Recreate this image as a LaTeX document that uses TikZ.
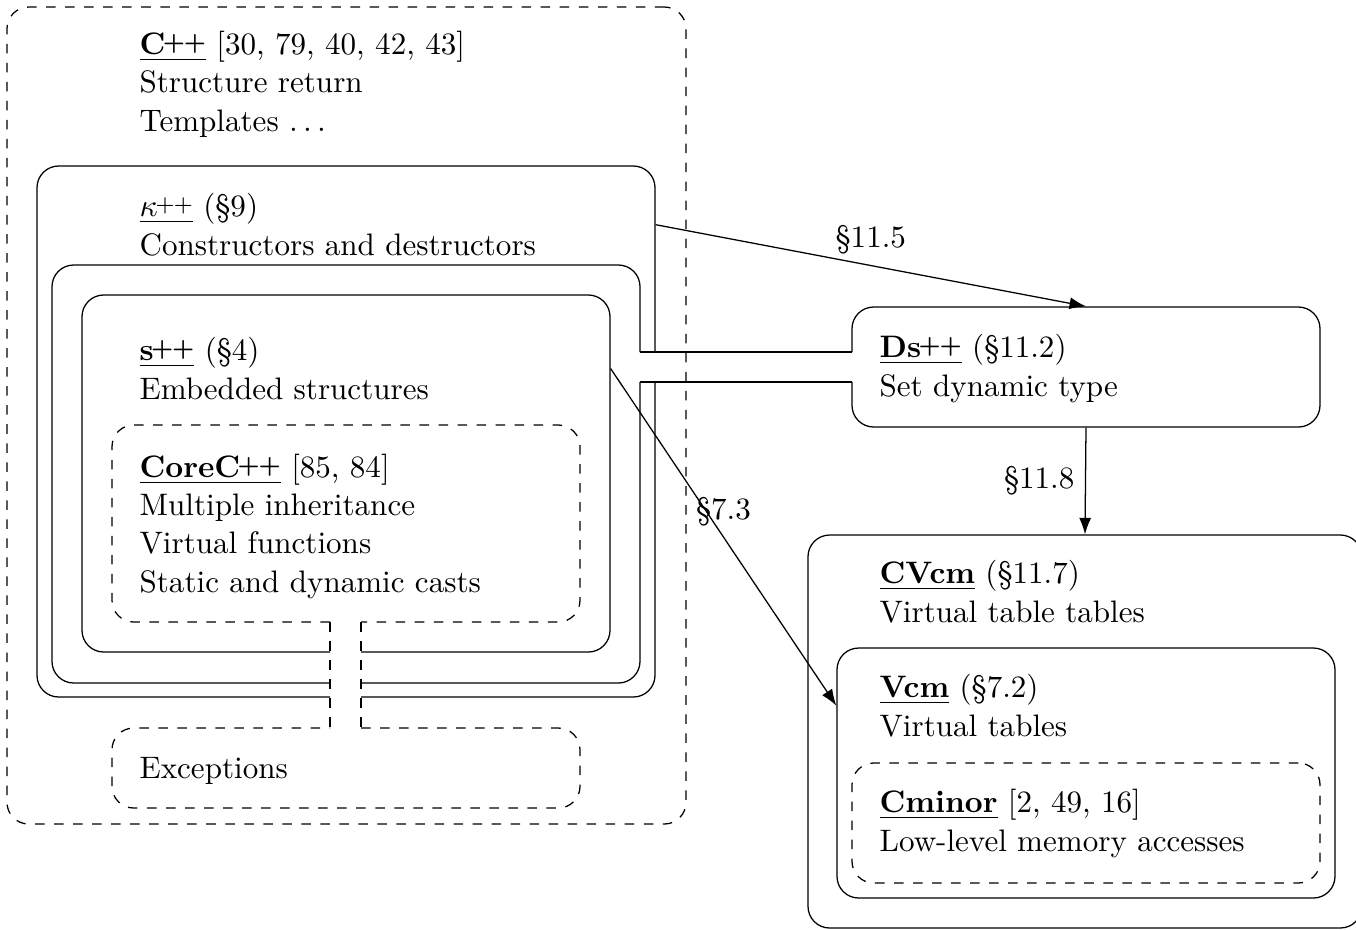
\documentclass[tikz,border=0pt]{standalone}
\usepackage{tikz}
\usetikzlibrary{fit,arrows.meta}
\newcommand{\pplus}{\kern-0.8pt\raisebox{1.6pt}{\scriptsize +\kern-0.4pt+}}
\tikzset{
	area/.style={inner sep=0pt},
	frame/.style={rounded corners=2.4mm},
	txt/.style={anchor=base west, align=left, inner sep=0pt},
	link/.style={-{Latex[length=5.2pt,width=3.8pt]}},
}
\begin{document}
\begin{tikzpicture}[x=1.1086mm, y=-1.1086mm, font=\fontsize{9.8}{12}\selectfont]
		%%%%% START %%%%%
		\useasboundingbox (0,0) rectangle (135.6,92.9);
		
		% C++
		\node[area, draw, dashed, frame, fit={(0.7,0.7) (68.6,82.4)}] (cpp) {};
		\node[txt] (cpptxt) at (13.9,13.1) {\underline{\textbf{C\pplus}} [30, 79, 40, 42, 43]\\Structure return\\Templates $\ldots$};
		
		% kappa++
		\node[area, fit={(3.7,16.6) (65.5,69.7)}] (kpp) {};
		\draw[frame] (65.5,35.2) -- (65.5,16.6) -- (3.7,16.6) -- (3.7,69.7) -- (33.0,69.7);
		\draw[frame] (36.1,69.7) -- (65.5,69.7) -- (65.5,38.2);
		\node[txt] (kpptxt) at (13.9,25.5) {\underline{$\kappa$\pplus} (\S9)\\Constructors and destructors};
		
		% Ds++ (left part, channel, right part)
		\draw[frame] (64.0,35.2) -- (64.0,26.5) -- (5.2,26.5) -- (5.2,68.3) -- (33.0,68.3);
		\draw[frame] (36.1,68.3) -- (64.0,68.3) -- (64.0,38.2);
		\draw (64.0,35.2) -- (85.2,35.2);
		\draw (64.0,38.2) -- (85.2,38.2);
		\node[area, fit={(85.2,30.7) (132.0,42.7)}] (dspp) {};
		\draw[frame] (85.2,35.2) -- (85.2,30.7) -- (132.0,30.7) -- (132.0,42.7) -- (85.2,42.7) -- (85.2,38.2);
		\node[txt] (dspptxt) at (87.9,39.6) {\underline{\textbf{Ds\pplus}} (\S11.2)\\Set dynamic type};
		
		% s++
		\node[area, fit={(8.2,29.5) (61.0,65.2)}] (spp) {};
		\draw[frame] (33.0,65.2) -- (8.2,65.2) -- (8.2,29.5) -- (61.0,29.5) -- (61.0,65.2) -- (36.1,65.2);
		\node[txt] (spptxt) at (13.9,39.9) {\underline{\textbf{s\pplus}} (\S4)\\Embedded structures};
		
		% CoreC++ and Exceptions
		\draw[frame, dashed] (33.0,62.2) -- (11.2,62.2) -- (11.2,42.5) -- (58.0,42.5) -- (58.0,62.2) -- (36.1,62.2);
		\draw[dashed] (33.0,62.2) -- (33.0,72.8);
		\draw[dashed] (36.1,62.2) -- (36.1,72.8);
		\draw[frame, dashed] (36.1,72.8) -- (58.0,72.8) -- (58.0,80.8) -- (11.2,80.8) -- (11.2,72.8) -- (33.0,72.8);
		\node[txt] (coretxt) at (13.9,59.2) {\underline{\textbf{CoreC\pplus}} [85, 84]\\Multiple inheritance\\Virtual functions\\Static and dynamic casts};
		\node[txt] (exctxt) at (13.9,77.8) {Exceptions};
		
		% CVcm, Vcm, Cminor
		\node[area, draw, frame, fit={(80.8,53.5) (136.2,92.8)}] (cvcm) {};
		\node[area, draw, frame, fit={(83.7,64.8) (133.5,89.8)}] (vcm) {};
		\node[area, draw, dashed, frame, fit={(85.2,76.3) (132.0,88.3)}] (cminor) {};
		\node[txt] (cvcmtxt) at (87.9,62.2) {\underline{\textbf{CVcm}} (\S11.7)\\Virtual table tables};
		\node[txt] (vcmtxt) at (87.9,73.6) {\underline{\textbf{Vcm}} (\S7.2)\\Virtual tables};
		\node[txt] (cminortxt) at (87.9,85.1) {\underline{\textbf{Cminor}} [2, 49, 16]\\Low-level memory accesses};
		
		% arrows
		\draw[link] (kpp.east |- kpptxt) -- node[above] {\S11.5} (dspp.north);
		\draw[link] (dspp.south) -- node[left] {\S11.8} (cvcm.north);
		\draw[link] (spp.east |- spptxt) -- node[above] {\S7.3} (vcm.west |- vcmtxt);
		
		%%%%% END %%%%%
	\end{tikzpicture}
\end{document}
